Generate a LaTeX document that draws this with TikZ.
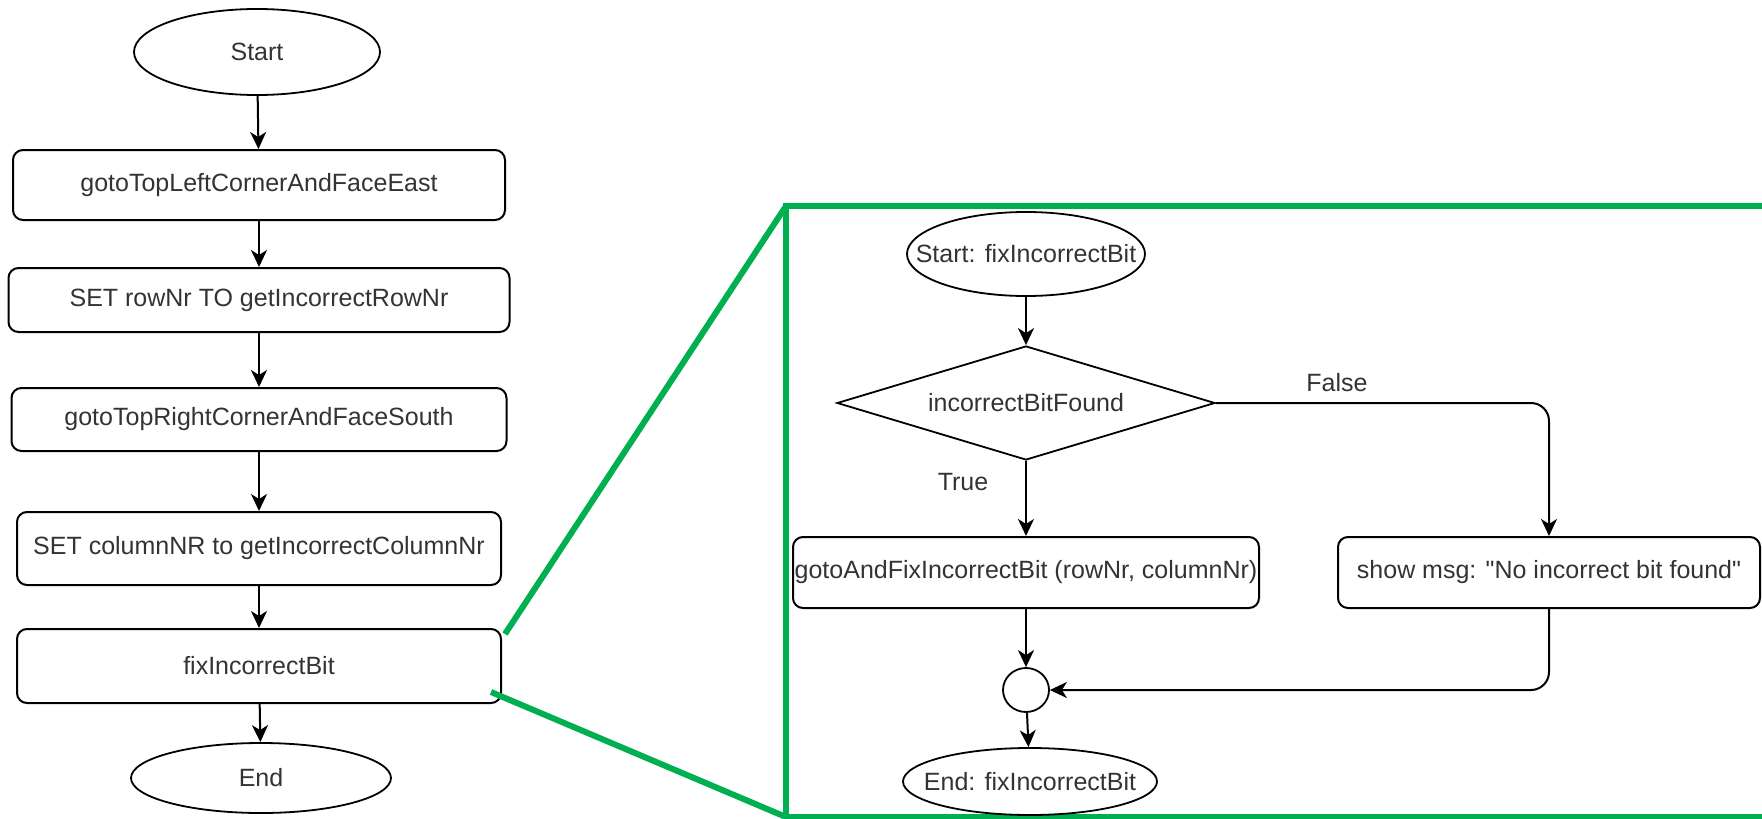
\documentclass[tikz,border=0pt]{standalone}
\usepackage{fontspec}
\setmainfont{Liberation Sans}
\usetikzlibrary{shapes.geometric,arrows.meta}
\definecolor{txt}{RGB}{51,51,51}
\definecolor{grn}{RGB}{0,176,80}
\begin{document}
\begin{tikzpicture}[x=1pt,y=-1pt,
  every node/.style={font=\fontsize{25}{30}\selectfont, text=txt, inner sep=0pt},
  procbox/.style={draw, line width=2pt, rounded corners=10pt, align=center},
  term/.style={draw, line width=1.8pt, ellipse},
  decis/.style={draw, line width=1.8pt, diamond, shape aspect=3.316},
  conn/.style={line width=2pt, -{Stealth[length=17pt,width=16pt,inset=5pt]}},
  zoomline/.style={draw=grn, line width=6pt}]
\useasboundingbox (0,0) rectangle (1762,819);
% left flow
\node[term, minimum width=246pt, minimum height=86pt] (start) at (257,52) {\makebox[0pt]{Start}};
\node[procbox, minimum width=492pt, minimum height=70pt] (b1) at (259,185) {gotoTopLeftCornerAndFaceEast};
\node[procbox, minimum width=501pt, minimum height=64pt] (b2) at (259,300) {SET rowNr TO getIncorrectRowNr};
\node[procbox, minimum width=495pt, minimum height=63pt] (b3) at (259,419.5) {gotoTopRightCornerAndFaceSouth};
\node[procbox, minimum width=484pt, minimum height=73pt] (b4) at (259,548.5) {SET columnNR to getIncorrectColumnNr};
\node[procbox, minimum width=484pt, minimum height=74pt] (b5) at (259,666) {fixIncorrectBit};
\node[term, minimum width=260pt, minimum height=70pt] (end) at (261,778) {\makebox[0pt]{End}};
\draw[conn] (start) -- (b1);
\draw[conn] (b1) -- (b2);
\draw[conn] (b2) -- (b3);
\draw[conn] (b3) -- (b4);
\draw[conn] (b4) -- (b5);
\draw[conn] (b5) -- (end);
% zoom frame
\coordinate (z1) at (505,634);
\coordinate (z2) at (491,692);
\coordinate (ftl) at (786,206);
\coordinate (fbl) at (786,817);
\draw[zoomline] (ftl) rectangle (1770,817);
\draw[zoomline] (z1) -- (ftl);
\draw[zoomline] (z2) -- (fbl);
% right flow
\node[term, minimum width=238pt, minimum height=84pt] (rs) at (1026,254) {\makebox[0pt]{Start: fixIncorrectBit}};
\node[decis, minimum width=378pt, minimum height=114pt] (dec) at (1026,403) {\makebox[0pt]{incorrectBitFound}};
\node[procbox, minimum width=466pt, minimum height=71pt] (fix) at (1026,572.5) {gotoAndFixIncorrectBit (rowNr, columnNr)};
\node[procbox, minimum width=422pt, minimum height=71pt] (msg) at (1549,572.5) {show msg: \textquotedbl No incorrect bit found\textquotedbl};
\node[term, minimum width=46pt, minimum height=44pt] (merge) at (1026,690) {};
\node[term, minimum width=254pt, minimum height=67pt] (re) at (1030,781.5) {\makebox[0pt]{End: fixIncorrectBit}};
\draw[conn] (rs) -- (dec);
\draw[conn] (dec) -- (fix);
\node (true) at (963,482) {True};
\draw[conn, rounded corners=18pt] (dec.east) -| (msg.north);
\node (false) at (1337,383) {False};
\draw[conn, rounded corners=18pt] (msg.south) |- (merge.east);
\draw[conn] (fix) -- (merge);
\draw[conn] (merge) -- (re);
\end{tikzpicture}
\end{document}
